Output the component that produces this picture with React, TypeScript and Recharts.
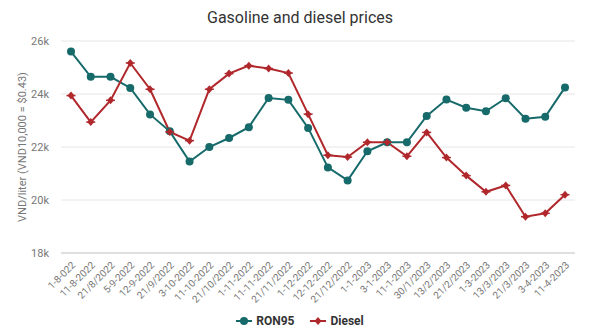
import React from "react";
import { LineChart, Line, XAxis, YAxis, CartesianGrid } from "recharts";

const dates = [
  "1-8-022", "11-8-2022", "21/8/2022", "5-9-2022", "12-9-2022", "21/9/2022",
  "3-10-2022", "11-10-2022", "21/10/2022", "1-11-2022", "11-11-2022", "21/11/2022",
  "1-12-2022", "12-12-2022", "21/12/2022", "1-1-2023", "3-1-2023", "11-1-2023",
  "30/1/2023", "13/2/2023", "21/2/2023", "1-3-2023", "13/3/2023", "21/3/2023",
  "3-4-2023", "11-4-2023",
];

const ron95 = [
  25600, 24650, 24650, 24230, 23230, 22590, 21450, 22000, 22340, 22750, 23850, 23780,
  22720, 21230, 20740, 21840, 22180, 22180, 23170, 23790, 23480, 23350, 23840, 23070,
  23140, 24250,
];

const diesel = [
  23940, 22940, 23760, 25170, 24180, 22570, 22240, 24180, 24770, 25070, 24960, 24790,
  23240, 21690, 21620, 22180, 22180, 21650, 22550, 21600, 20920, 20310, 20550, 19370,
  19500, 20200,
];

const yTicks = [18000, 20000, 22000, 24000, 26000];

const data = dates.map((d, i) => ({ date: d, ron95: ron95[i], diesel: diesel[i] }));

const TEAL = "#176a6a";
const RED = "#b0282c";

const DieselDot = (props: any) => {
  const { cx, cy } = props;
  if (cx == null || cy == null) return null;
  return (
    <g>
      <path d={`M${cx},${cy - 4} L${cx + 3.5},${cy} L${cx},${cy + 4} L${cx - 3.5},${cy} Z`} fill={RED} />
      <line x1={cx - 4.5} y1={cy} x2={cx + 4.5} y2={cy} stroke={RED} strokeWidth={1.5} />
    </g>
  );
};

const XTick = (props: any) => {
  const { x, y, payload } = props;
  return (
    <text
      x={x + 3}
      y={y + 3}
      textAnchor="end"
      fontSize={10}
      fill="#777"
      fontFamily="Roboto, sans-serif"
      transform={`rotate(-45, ${x + 3}, ${y + 3})`}
      dominantBaseline="middle"
    >
      {payload.value}
    </text>
  );
};

export default function App() {
  return (
    <div style={{ position: "absolute", left: 0, top: 0, width: 600, height: 330, background: "#fff", fontFamily: "Roboto, sans-serif" }}>
      <div style={{ position: "absolute", left: 0, top: 8, width: 600, textAlign: "center", fontSize: 16, color: "#333" }}>
        Gasoline and diesel prices
      </div>
      <LineChart width={600} height={330} data={data} margin={{ top: 41, right: 25, bottom: 47, left: 0 }}>
        <CartesianGrid vertical={false} stroke="#e6e6e6" />
        <XAxis
          dataKey="date"
          interval={0}
          tickLine={false}
          axisLine={{ stroke: "#ccc" }}
          padding={{ left: 10, right: 10 }}
          tick={<XTick />}
          height={30}
        />
        <YAxis
          width={61}
          domain={[18000, 26000]}
          ticks={yTicks}
          axisLine={false}
          tickLine={false}
          tickMargin={6}
          tick={{ fontSize: 11, fill: "#777" }}
          tickFormatter={(v: number) => `${v / 1000}k`}
          label={{
            content: () => (
              <text
                x={23}
                y={147}
                transform="rotate(-90, 23, 147)"
                textAnchor="middle"
                dominantBaseline="middle"
                fontSize={11}
                fill="#777"
              >
                VND/liter (VND10,000 = $0.43)
              </text>
            ),
          }}
        />
        <Line
          type="linear"
          dataKey="ron95"
          stroke={TEAL}
          strokeWidth={2}
          dot={{ r: 4, fill: TEAL, stroke: TEAL, strokeWidth: 0 }}
          isAnimationActive={false}
        />
        <Line
          type="linear"
          dataKey="diesel"
          stroke={RED}
          strokeWidth={2}
          dot={<DieselDot />}
          isAnimationActive={false}
        />
      </LineChart>
      <div style={{ position: "absolute", left: 0, top: 314, width: 600, display: "flex", justifyContent: "center", alignItems: "center", fontSize: 12, fontWeight: "bold", color: "#333" }}>
        <svg width={16} height={10} style={{ marginRight: 4 }}>
          <line x1={0} y1={5} x2={16} y2={5} stroke={TEAL} strokeWidth={2} />
          <circle cx={8} cy={5} r={4} fill={TEAL} />
        </svg>
        <span style={{ marginRight: 16 }}>RON95</span>
        <svg width={16} height={10} style={{ marginRight: 4 }}>
          <line x1={0} y1={5} x2={16} y2={5} stroke={RED} strokeWidth={2} />
          <path d="M8,1 L11.5,5 L8,9 L4.5,5 Z" fill={RED} />
        </svg>
        <span>Diesel</span>
      </div>
    </div>
  );
}
